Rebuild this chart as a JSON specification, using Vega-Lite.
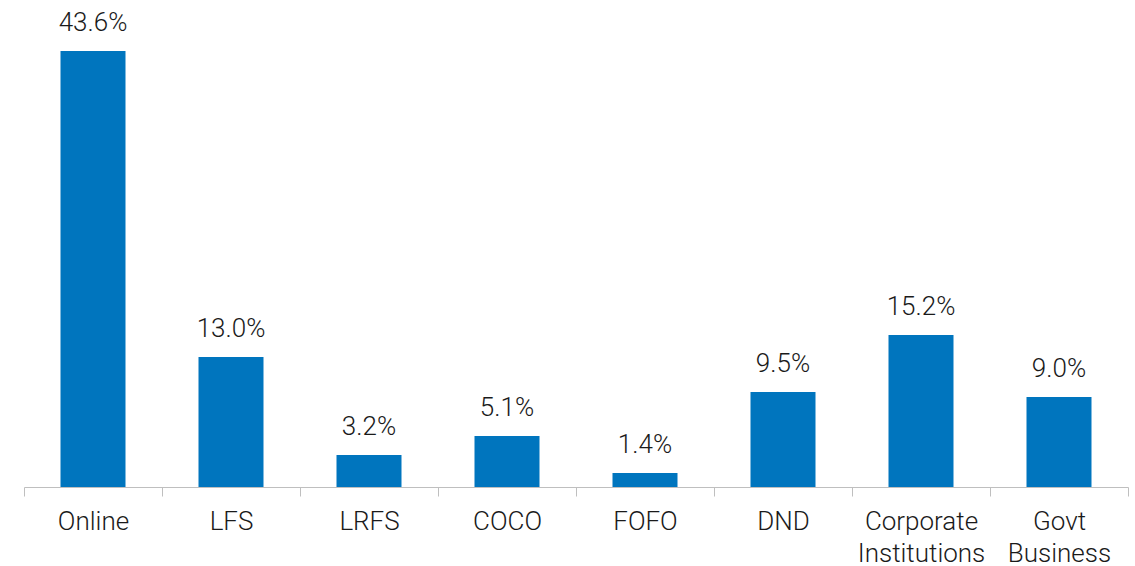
{
  "$schema": "https://vega.github.io/schema/vega-lite/v6.json",
  "autosize": {"type": "none"},
  "padding": {"left": 24, "top": 0, "right": 7, "bottom": 79},
  "width": 1104,
  "height": 487,
  "background": "white",
  "data": {"values": [
    {"channel": "Online", "share": 0.436},
    {"channel": "LFS", "share": 0.130},
    {"channel": "LRFS", "share": 0.032},
    {"channel": "COCO", "share": 0.051},
    {"channel": "FOFO", "share": 0.014},
    {"channel": "DND", "share": 0.095},
    {"channel": "Corporate Institutions", "share": 0.152},
    {"channel": "Govt Business", "share": 0.090}
  ]},
  "config": {"view": {"stroke": null}, "font": "Roboto"},
  "encoding": {
    "x": {
      "field": "channel", "type": "nominal", "sort": null,
      "scale": {"paddingInner": 0, "paddingOuter": 0},
      "axis": {
        "title": null, "labelAngle": 0, "tickBand": "extent",
        "domainColor": "#BFBFBF", "tickColor": "#BFBFBF", "tickSize": 9,
        "labelFont": "Roboto", "labelFontWeight": 300, "labelFontSize": 26,
        "labelColor": "#1a1a1a", "labelPadding": 12, "labelLineHeight": 32,
        "labelBaseline": "top",
        "labelExpr": "split(datum.label, ' ')"
      }
    },
    "y": {
      "field": "share", "type": "quantitative",
      "scale": {"domain": [0, 0.487]},
      "axis": null
    }
  },
  "layer": [
    {"mark": {"type": "bar", "color": "#0075BE", "width": {"band": 0.471}}},
    {
      "mark": {"type": "text", "baseline": "alphabetic", "dy": -20, "font": "Roboto", "fontWeight": 300, "fontSize": 26, "color": "#1a1a1a"},
      "encoding": {"text": {"field": "share", "type": "quantitative", "format": ".1%"}}
    }
  ]
}
